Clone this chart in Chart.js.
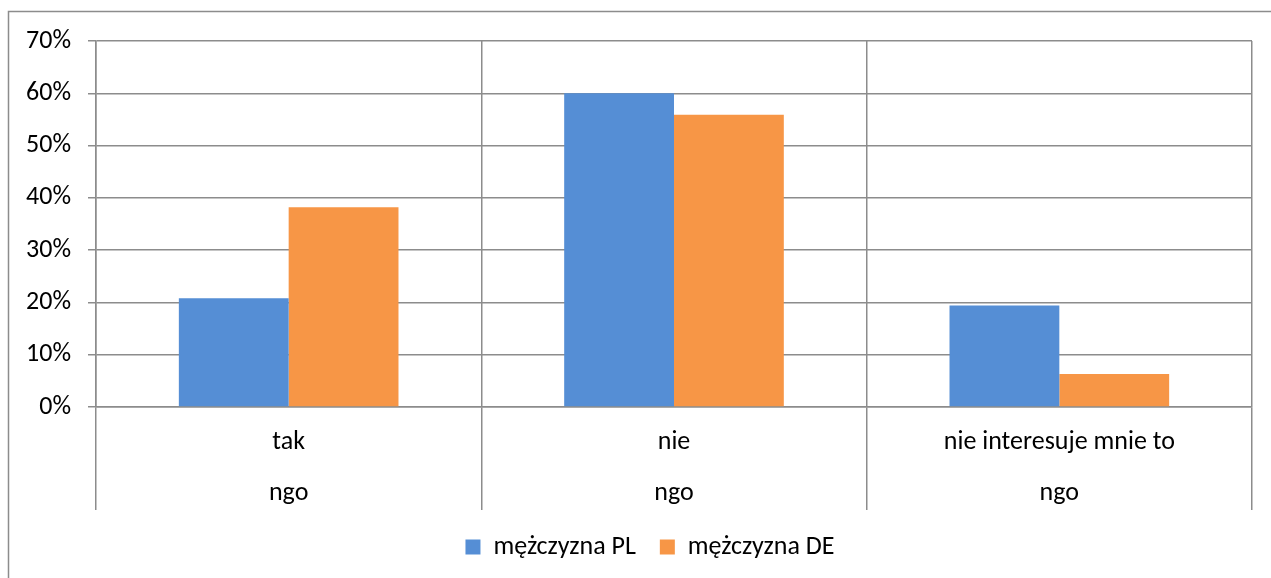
<!DOCTYPE html>
<html>
<head>
<meta charset="utf-8">
<script src="https://cdn.jsdelivr.net/npm/chart.js@4.4.1/dist/chart.umd.min.js"></script>
<style>
  html, body { margin: 0; padding: 0; background: #fff; overflow: hidden; }
  canvas { display: block; }
</style>
</head>
<body>
<canvas id="chart" width="1271" height="578" style="width:1271px;height:578px"></canvas>
<script>
// ── DATA ─────────────────────────────────────────────────────
var categories = ['tak', 'nie', 'nie interesuje mnie to'];
var groupLabel = 'ngo';
var seriesNames = ['mężczyzna PL', 'mężczyzna DE'];
var valuesPL = [20.8, 60.0, 19.4];
var valuesDE = [38.2, 55.9, 6.3];
var yMin = 0, yMax = 70, yStep = 10;

// ── STYLE ────────────────────────────────────────────────────
var FONT = 'Carlito, Calibri, Lato, "Liberation Sans", sans-serif';
var FSIZE = 26;
var GRID = '#8c8c8c';
var BLUE = '#558ed5';
var ORANGE = '#f79646';

// ── FRAME (outer chart border) ───────────────────────────────
var framePlugin = {
  id: 'frame',
  beforeDraw: function (chart) {
    var ctx = chart.ctx;
    ctx.save();
    ctx.fillStyle = '#fff';
    ctx.fillRect(0, 0, chart.width, chart.height);
    ctx.strokeStyle = GRID;
    ctx.lineWidth = 1.5;
    ctx.strokeRect(8.5, 11.5, 1275, 620);
    ctx.restore();
  }
};

// legend sits a little right of the canvas centre in the original
var legendShift = {
  id: 'legendShift',
  afterLayout: function (chart) {
    var l = chart.legend;
    if (!l) return;
    l.left += 24;
    l.right += 24;
  }
};

new Chart(document.getElementById('chart'), {
  type: 'bar',
  data: {
    labels: categories.map(function (c) { return [c, groupLabel]; }),
    datasets: [
      { label: seriesNames[0], data: valuesPL, backgroundColor: BLUE },
      { label: seriesNames[1], data: valuesDE, backgroundColor: ORANGE }
    ]
  },
  options: {
    responsive: false,
    animation: false,
    layout: { padding: { top: 41, right: 19, left: 0, bottom: 8 } },
    categoryPercentage: 0.57,
    barPercentage: 1.0,
    plugins: {
      tooltip: { enabled: false },
      legend: {
        position: 'bottom',
        labels: {
          boxWidth: 15, boxHeight: 15, padding: 24,
          color: '#000', font: { family: FONT, size: FSIZE }
        }
      }
    },
    scales: {
      x: {
        afterFit: function (s) { s.height = 103; },
        grid: { offset: true, color: GRID, lineWidth: 1.5, tickLength: 103, tickColor: GRID },
        border: { color: GRID, width: 1.5 },
        ticks: {
          color: '#000', padding: -93.5,
          font: { family: FONT, size: FSIZE, lineHeight: 51 / FSIZE }
        }
      },
      y: {
        min: yMin, max: yMax,
        afterFit: function (s) { s.width = 96; },
        grid: { color: GRID, lineWidth: 1.5, tickLength: 8, tickColor: GRID },
        border: { color: GRID, width: 1.5 },
        ticks: {
          stepSize: yStep, padding: 17, color: '#000',
          font: { family: FONT, size: FSIZE },
          callback: function (v) { return v + '%'; }
        }
      }
    }
  },
  plugins: [framePlugin, legendShift]
});
</script>
</body>
</html>
